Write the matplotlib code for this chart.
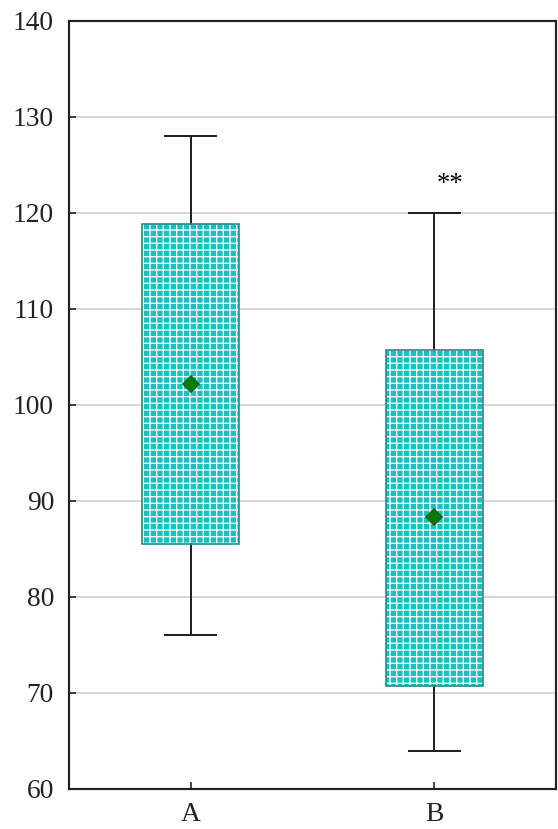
import matplotlib
matplotlib.use('Agg')
import matplotlib.pyplot as plt
from matplotlib.patches import PathPatch

# data
categories = ['A', 'B']
means = [102.2, 88.3]
box_low = [85.5, 70.7]
box_high = [118.9, 105.7]
whisker_low = [76.0, 64.0]
whisker_high = [128.0, 120.0]
yticks = [60, 70, 80, 90, 100, 110, 120, 130, 140]
star_label = '**'
star_pos = (1.065, 123.0)

plt.rcParams['font.family'] = ['Liberation Serif', 'DejaVu Serif']
plt.rcParams['hatch.linewidth'] = 0.8

fig = plt.figure(figsize=(558 / 120, 829 / 120), dpi=120)
ax = fig.add_axes([69 / 558, 40 / 829, (556 - 69) / 558, (789 - 21) / 829])

stats = []
for i, name in enumerate(categories):
    stats.append({'label': name, 'mean': means[i], 'med': means[i],
                  'q1': box_low[i], 'q3': box_high[i],
                  'whislo': whisker_low[i], 'whishi': whisker_high[i], 'fliers': []})

positions = list(range(len(categories)))
bp = ax.bxp(stats, positions=positions, widths=0.4, patch_artist=True,
            showmeans=True, showfliers=False,
            boxprops=dict(facecolor='#18c2c2', edgecolor='white', linewidth=0, hatch='+++'),
            whiskerprops=dict(color='#222222', linewidth=1.2),
            capprops=dict(color='#222222', linewidth=1.2),
            medianprops=dict(visible=False),
            meanprops=dict(marker='D', markerfacecolor='#0a7a0a', markeredgecolor='#0a6a0a',
                           markersize=6.5),
            capwidths=0.21, zorder=3)

# outline drawn separately so the hatch stays white
for box in bp['boxes']:
    ax.add_patch(PathPatch(box.get_path(), facecolor='none', edgecolor='#2a8c8c',
                           linewidth=1.0, zorder=3.5))
for m in bp['means']:
    m.set_zorder(4)

ax.text(star_pos[0], star_pos[1], star_label, ha='center', va='center', fontsize=16)

ax.set_xlim(-0.5, 1.5)
ax.set_ylim(60, 140)
ax.set_yticks(yticks)
ax.set_xticks(positions)
ax.set_xticklabels(categories)
ax.yaxis.grid(True, color='#cfcfcf', linewidth=1.0)
ax.set_axisbelow(True)
ax.tick_params(axis='both', direction='in', length=4, width=1, labelsize=16.5, colors='#222222')
ax.tick_params(axis='y', pad=9)
ax.tick_params(axis='x', pad=8)
for s in ax.spines.values():
    s.set_linewidth(1.3)
    s.set_color('#222222')

fig.savefig('out.png', dpi=120)
